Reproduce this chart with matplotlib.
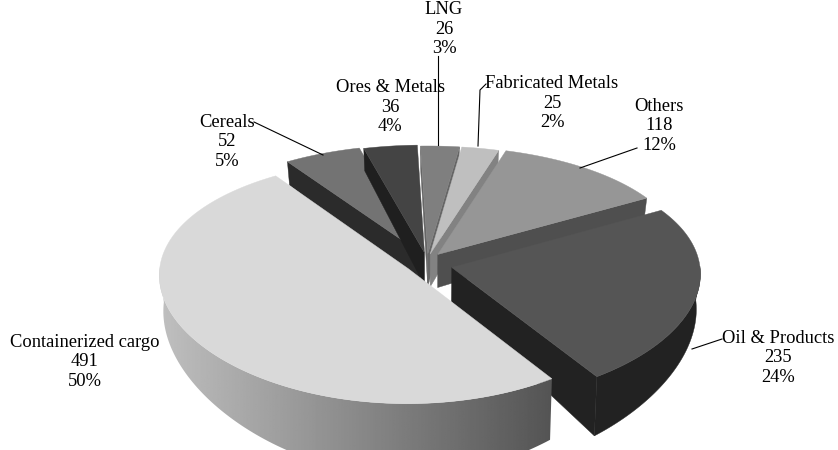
import numpy as np
import matplotlib
matplotlib.use("Agg")
import matplotlib.pyplot as plt
from matplotlib.patches import Polygon

plt.rcParams["font.family"] = ["Liberation Serif", "DejaVu Serif"]

# clockwise from the top of the big slice
names = ["Cereals", "Ores & Metals", "LNG", "Fabricated Metals", "Others", "Oil & Products", "Containerized cargo"]
values = [52, 36, 26, 25, 118, 235, 491]
percents = ["5%", "4%", "3%", "2%", "12%", "24%", "50%"]

top_colors = ["#737373", "#444444", "#7f7f7f", "#bfbfbf", "#969696", "#555555", "#d9d9d9"]
wall_colors = ["#2b2b2b", "#1f1f1f", "#666666", "#828282", "#4f4f4f", "#222222", None]
explode = [0.08, 0.07, 0.06, 0.06, 0.07, 0.09, 0.10]
nudge = [(1, 1), (0, 1), (0, 1), (0, 1), (0, 1), (3, 5), (2, 2)]

label_pos = [(227, 142), (390, 107), (444, 29), (552, 103), (659, 126), (778, 358), (85, 362)]
leaders = [
    [(254, 122), (323, 155)],
    [],
    [(438, 56), (438, 145)],
    [(478, 146), (480, 90), (486, 84)],
    [(637, 148), (580, 168)],
    [(692, 349), (722, 339)],
    [],
]

cx, cy = 427, 260
rx, ry = 248, 120
kx, ky = 0.05, 0.10
depth = 34
depth_k = 0.5
start = 124


def project(u, v):
    return cx + rx * u / (1 + kx * v), cy - ry * v / (1 + ky * v)


def drop(u, v):
    x, y = project(u, v)
    return cx + (x - cx) * 0.985, y + depth / (1 + depth_k * v)


fig = plt.figure(figsize=(8.38, 4.5), dpi=100)
ax = fig.add_axes([0, 0, 1, 1])
ax.set_xlim(0, 838)
ax.set_ylim(450, 0)
ax.axis("off")

total = sum(values)
angle = start
for i, val in enumerate(values):
    sweep = val / total * 360
    t = np.radians(np.linspace(angle, angle - sweep, 160))
    mid = np.radians(angle - sweep / 2)
    ou, ov = explode[i] * np.cos(mid), explode[i] * np.sin(mid)
    # outline goes clockwise: apex, arc
    us = np.r_[ou, ou + np.cos(t)]
    vs = np.r_[ov, ov + np.sin(t)]
    z = 10 + i
    shift = np.array(nudge[i])

    # radial walls that face the viewer
    for a, b in [(0, 1), (-1, 0)]:
        p1, p2 = project(us[a], vs[a]), project(us[b], vs[b])
        if p2[0] < p1[0]:  # clockwise outline, front edges run right to left
            q1, q2 = drop(us[a], vs[a]), drop(us[b], vs[b])
            col = wall_colors[i] if wall_colors[i] else "#555555"
            ax.add_patch(Polygon(np.array([p1, p2, q2, q1]) + shift, fc=col, ec=col, lw=0.3, zorder=z))

    # outer wall, front part only
    ax_pts = np.array(project(us[1:], vs[1:])).T + shift
    low_pts = np.array(drop(us[1:], vs[1:])).T + shift
    front = np.sin(t) < 0.02
    if front.any():
        wall = np.vstack([ax_pts[front], low_pts[front][::-1]])
        if wall_colors[i]:
            ax.add_patch(Polygon(wall, fc=wall_colors[i], ec=wall_colors[i], lw=0.3, zorder=z))
        else:
            clip = Polygon(wall, fc="none", ec="none", zorder=z)
            ax.add_patch(clip)
            grad = np.linspace(0.75, 0.33, 256).reshape(1, -1)
            im = ax.imshow(grad, cmap="gray", vmin=0, vmax=1, aspect="auto", zorder=z,
                           extent=[wall[:, 0].min(), wall[:, 0].max(), wall[:, 1].max(), wall[:, 1].min()])
            im.set_clip_path(clip)

    top = np.array(project(us, vs)).T + shift
    ax.add_patch(Polygon(top, fc=top_colors[i], ec=top_colors[i], lw=0.3, zorder=z + 0.5))
    angle -= sweep

ax.set_xlim(0, 838)
ax.set_ylim(450, 0)

for i, name in enumerate(names):
    ax.text(label_pos[i][0], label_pos[i][1], f"{name}\n{values[i]}\n{percents[i]}", ha="center", va="center",
            fontsize=13.3, linespacing=1.17, color="black", zorder=30)
    if leaders[i]:
        xs, ys = zip(*leaders[i])
        ax.plot(xs, ys, color="black", lw=0.8, zorder=25)

fig.savefig("out.png", dpi=100)
